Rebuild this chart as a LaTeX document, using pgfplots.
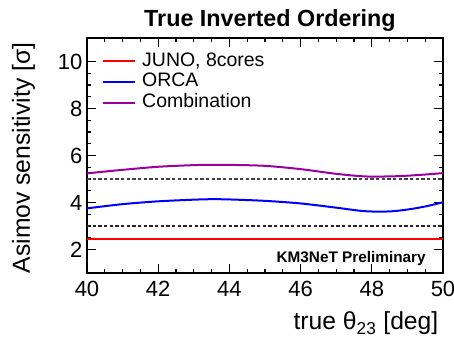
\documentclass[border=0pt]{standalone}
\usepackage{fontspec}
\setmainfont{Liberation Sans}
\usepackage{pgfplots}
\pgfplotsset{compat=1.18}
\definecolor{comb}{rgb}{0.6,0,0.62}
\begin{document}
\begin{tikzpicture}
\useasboundingbox (-65.25pt,-48.75pt) rectangle (275.25pt,204.75pt);
\begin{axis}[
  at={(0,0)}, anchor=south west,
  scale only axis, width=267pt, height=176.25pt,
  clip mode=individual,
  xmin=40, xmax=50, ymin=1, ymax=11,
  xtick={40,42,...,50}, ytick={2,4,...,10},
  minor x tick num=3, minor y tick num=3,
  tick align=inside, tick pos=both,
  major tick length=6.5pt, minor tick length=3pt,
  axis line style={line width=1pt}, every tick/.style={line width=0.8pt, black},
  /pgf/number format/assume math mode=true,
  ticklabel style={font=\fontsize{16.5}{18}\selectfont},
  xticklabel style={anchor=base, yshift=-18pt},
  yticklabel style={anchor=east, xshift=0pt},
  xlabel={true θ\textsubscript{23} [deg]},
  xlabel style={at={(axis description cs:1,0)}, anchor=base east, yshift=-42.75pt, font=\fontsize{18.5}{20}\selectfont},
  ylabel={Asimov sensitivity [σ]},
  ylabel style={at={(axis description cs:0,1)}, anchor=base east, rotate=0, xshift=0pt, yshift=42.75pt, font=\fontsize{18.5}{20}\selectfont},
  legend style={draw=none, fill=none, inner sep=0pt, column sep=0pt, at={(axis description cs:0.042,0.946)}, anchor=north west,
    font=\fontsize{14.6}{16}\selectfont, nodes={inner ysep=1pt, inner xsep=0pt, text height=10.5pt, text depth=3pt}},
  legend cell align=left,
  legend image code/.code={\draw[#1, line width=1pt] (0pt,0pt) -- (24pt,0pt); \path (0pt,0pt) -- (24pt,0pt);},
]
\addplot[red, line width=1.5pt] coordinates {(40,2.45) (50,2.45)};
\addlegendentry{\hspace*{4.5pt}JUNO, 8cores}
\addplot[blue, line width=1.5pt, smooth] coordinates {
(40,3.75) (41,3.93) (42,4.05) (43,4.12) (43.5,4.14) (44,4.13) (45,4.07) (46,3.96) (47,3.78) (47.8,3.63) (48.5,3.62) (49,3.70) (49.5,3.83) (50,4.01)};
\addlegendentry{\hspace*{4.5pt}ORCA}
\addplot[comb, line width=1.5pt, smooth] coordinates {
(40,5.24) (41,5.39) (42,5.52) (43,5.59) (43.5,5.60) (44,5.60) (45,5.56) (46,5.42) (47,5.22) (47.8,5.11) (48.5,5.11) (49,5.14) (49.5,5.19) (50,5.25)};
\addlegendentry{\hspace*{4.5pt}Combination}
\addplot[black!75, line width=0.9pt, dash pattern=on 2.5pt off 1.75pt, forget plot] coordinates {(40,5) (50,5)};
\addplot[black!85, line width=0.9pt, dash pattern=on 2.5pt off 1.75pt, forget plot] coordinates {(40,3) (50,3)};
\node[anchor=base, font=\bfseries\fontsize{17.5}{19}\selectfont] at (axis description cs:0.514,1) [yshift=8.25pt] {True Inverted Ordering};
\node[anchor=base east, font=\bfseries\fontsize{11.5}{13}\selectfont, inner sep=0pt] at (axis description cs:1,0) [xshift=-12.75pt, yshift=7.5pt] {KM3NeT Preliminary};
\end{axis}
\end{tikzpicture}
\end{document}
